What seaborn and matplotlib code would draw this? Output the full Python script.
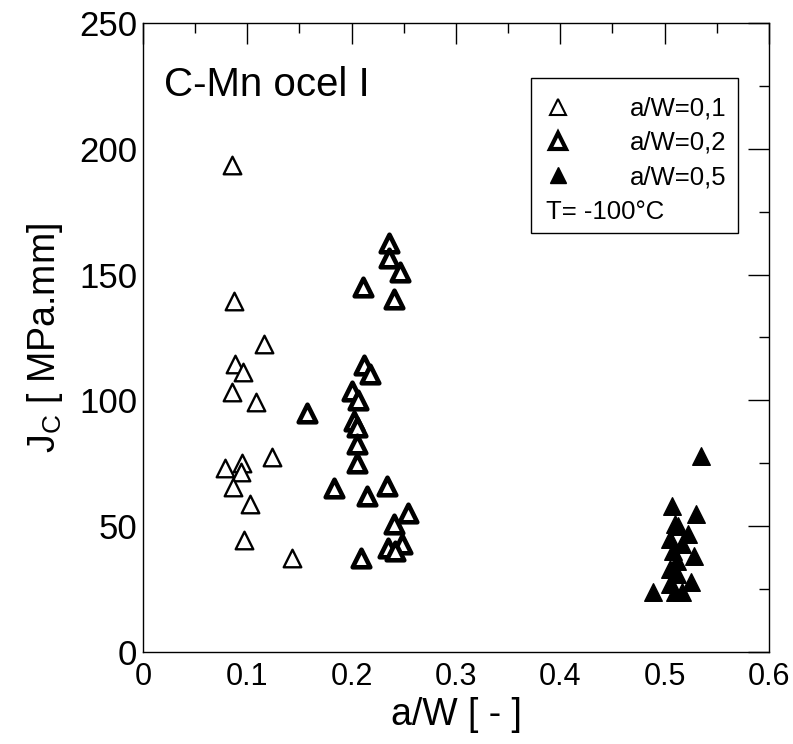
import matplotlib
matplotlib.use("Agg")
import matplotlib.pyplot as plt
import matplotlib.patches as mpatches
from matplotlib.lines import Line2D
from matplotlib.ticker import MultipleLocator
import seaborn as sns
import pandas as pd

# a/W = 0.1 specimens (open triangles)
aw_01 = [0.085, 0.087, 0.116, 0.088, 0.096, 0.085, 0.108, 0.124, 0.095,
         0.079, 0.094, 0.086, 0.103, 0.097, 0.143]
jc_01 = [193.6, 139.6, 122.4, 114.5, 111.2, 103.2, 99.3, 77.4, 75.1,
         73.0, 71.7, 65.5, 58.8, 44.5, 37.2]

# a/W = 0.2 specimens (bold-edged triangles)
aw_02 = [0.236, 0.236, 0.246, 0.211, 0.241, 0.212, 0.218, 0.200, 0.206,
         0.157, 0.2025, 0.205, 0.205, 0.205, 0.183, 0.215, 0.234, 0.254,
         0.241, 0.248, 0.235, 0.242, 0.209]
jc_02 = [162.7, 156.5, 151.2, 145.2, 140.3, 114.1, 110.5, 103.9, 100.2,
         94.9, 92.0, 89.3, 82.7, 75.0, 65.1, 62.1, 66.1, 55.1,
         50.9, 42.9, 41.2, 40.3, 37.2]

# a/W = 0.5 specimens (filled triangles)
aw_05 = [0.535, 0.507, 0.530, 0.510, 0.513, 0.522, 0.505, 0.517, 0.508,
         0.528, 0.512, 0.505, 0.512, 0.525, 0.505, 0.489, 0.510, 0.517]
jc_05 = [78, 58, 55, 51, 50, 47, 45, 43, 40,
         38, 36, 33, 31, 28, 27, 24, 24, 24]

legend_labels = ["a/W=0,1", "a/W=0,2", "a/W=0,5"]
x_ticks = [0, 0.1, 0.2, 0.3, 0.4, 0.5, 0.6]
x_ticklabels = ["0", "0.1", "0.2", "0.3", "0.4", "0.5", "0.6"]

sns.set_style("white")
plt.rcParams["font.family"] = ["Liberation Sans", "DejaVu Sans"]
plt.rcParams["mathtext.fontset"] = "custom"
plt.rcParams["mathtext.rm"] = "Liberation Sans"
plt.rcParams["mathtext.it"] = "Liberation Sans"
plt.rcParams["text.color"] = "black"
plt.rcParams["axes.labelcolor"] = "black"
plt.rcParams["xtick.color"] = "black"
plt.rcParams["ytick.color"] = "black"

fig = plt.figure(figsize=(7.93, 7.44), dpi=100)
ax = fig.add_axes([0.1803, 0.1237, 0.7894, 0.8454])

df01 = pd.DataFrame({"aw": aw_01, "jc": jc_01})
df02 = pd.DataFrame({"aw": aw_02, "jc": jc_02})
df05 = pd.DataFrame({"aw": aw_05, "jc": jc_05})

ms = 160
sns.scatterplot(data=df01, x="aw", y="jc", ax=ax, marker="^", s=ms,
                facecolor="white", edgecolor="black", linewidth=1.7, zorder=3)
sns.scatterplot(data=df02, x="aw", y="jc", ax=ax, marker="^", s=ms,
                facecolor="white", edgecolor="black", linewidth=3.3, zorder=3)
sns.scatterplot(data=df05, x="aw", y="jc", ax=ax, marker="^", s=ms,
                facecolor="black", edgecolor="black", linewidth=1.0, zorder=3)

ax.set_xlim(0, 0.6)
ax.set_ylim(0, 250)
ax.set_xticks(x_ticks)
ax.set_xticklabels(x_ticklabels)
ax.xaxis.set_minor_locator(MultipleLocator(0.05))
ax.yaxis.set_major_locator(MultipleLocator(50))
ax.yaxis.set_minor_locator(MultipleLocator(25))

ax.tick_params(which="both", direction="in", top=True, right=True,
               colors="black", width=1.0)
ax.tick_params(which="major", length=15)
ax.tick_params(axis="x", which="major", pad=7, labelsize=22)
ax.tick_params(axis="y", which="major", pad=4, labelsize=25)
ax.tick_params(which="minor", length=7)

for sp in ax.spines.values():
    sp.set_color("black")
    sp.set_linewidth(1.0)

ax.set_xlabel("a/W [ - ]", fontsize=27, labelpad=4)
ax.set_ylabel(r"J$_\mathrm{C}$ [ MPa.mm]", fontsize=27, labelpad=10)

ax.text(0.033, 0.901, "C-Mn ocel I", transform=ax.transAxes,
        fontsize=29, va="center", ha="left")

# legend frame and entries
ax.add_patch(mpatches.Rectangle((0.620, 0.666), 0.330, 0.2466,
                                transform=ax.transAxes, fill=False,
                                edgecolor="black", linewidth=1.0, zorder=4))
handles = [
    Line2D([], [], marker="^", linestyle="none", markersize=12,
           markerfacecolor="white", markeredgecolor="black", markeredgewidth=1.5),
    Line2D([], [], marker="^", linestyle="none", markersize=12,
           markerfacecolor="white", markeredgecolor="black", markeredgewidth=3.0),
    Line2D([], [], marker="^", linestyle="none", markersize=12,
           markerfacecolor="black", markeredgecolor="black"),
]
ax.legend(handles, legend_labels, loc="upper left",
          bbox_to_anchor=(0.6430, 0.883), frameon=False, fontsize=18.5,
          borderpad=0, borderaxespad=0, handlelength=1.0,
          handletextpad=2.3, labelspacing=0.40)
ax.text(0.644, 0.699, "T= -100°C", transform=ax.transAxes,
        fontsize=18.5, va="center", ha="left")

fig.savefig("out.png", dpi=100)
